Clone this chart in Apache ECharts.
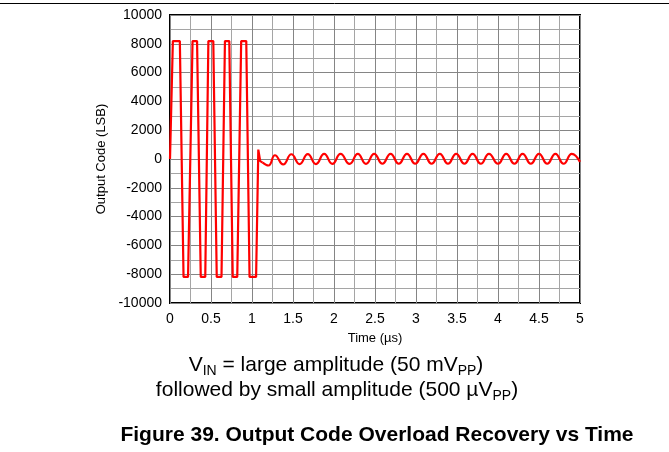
<!DOCTYPE html>
<html>
<head>
<meta charset="utf-8">
<script src="https://cdn.jsdelivr.net/npm/echarts@6/dist/echarts.min.js"></script>
<style>
  html, body { margin: 0; padding: 0; background: #fff; }
  #chart { width: 669px; height: 452px; }
</style>
</head>
<body>
<div id="chart"></div>
<script>
// Overload phase: large input drives the ADC to full scale (14-bit codes)
const overloadTime = [0, 0.02, 0.035, 0.12, 0.165, 0.22, 0.275, 0.33, 0.375, 0.43, 0.468, 0.528, 0.57, 0.628, 0.67, 0.723, 0.765, 0.82, 0.868, 0.93, 0.97, 1.05, 1.077, 1.10, 1.13];
const overloadCode = [0, 0, 8191, 8191, -8192, -8192, 8191, 8191, -8192, -8192, 8191, 8191, -8192, -8192, 8191, 8191, -8192, -8192, 8191, 8191, -8192, -8192, 650, -150, -250];

// Recovery phase: small-amplitude input, peaks and troughs of the response
const recoveryTime = [1.13, 1.20, 1.28, 1.38, 1.48, 1.58, 1.68, 1.78, 1.88, 1.98, 2.08, 2.19, 2.29, 2.39, 2.49, 2.59, 2.69, 2.79, 2.89, 2.99, 3.09, 3.19, 3.29, 3.39, 3.49, 3.59, 3.69, 3.79, 3.89, 4.00, 4.10, 4.20, 4.30, 4.40, 4.50, 4.60, 4.70, 4.80, 4.90, 5.00];
const recoveryCode = [-250, -450, 260, -380, 330, -350, 340, -350, 350, -340, 350, -340, 350, -340, 360, -330, 360, -330, 360, -330, 360, -330, 360, -330, 360, -330, 360, -330, 360, -330, 360, -330, 360, -330, 360, -330, 360, -330, 360, -200];

// Axis ticks
const xTicks = [0, 0.5, 1, 1.5, 2, 2.5, 3, 3.5, 4, 4.5, 5];
const yTicks = [-10000, -8000, -6000, -4000, -2000, 0, 2000, 4000, 6000, 8000, 10000];

const xLabel = 'Time (\u00b5s)';
const yLabel = 'Output Code (LSB)';
const captionTitle = 'Figure 39. Output Code Overload Recovery vs Time';

const font = 'Arial, "Liberation Sans", Helvetica, sans-serif';

const zip = (a, b) => a.map((v, i) => [v, b[i]]);

const chart = echarts.init(document.getElementById('chart'), null, { renderer: 'canvas' });

chart.setOption({
  animation: false,
  backgroundColor: '#fff',
  grid: {
    left: 170, top: 15, width: 410, height: 288,
    show: true, borderColor: '#000', borderWidth: 2, backgroundColor: 'transparent'
  },
  xAxis: {
    type: 'value',
    min: xTicks[0], max: xTicks[xTicks.length - 1], interval: 0.5,
    name: xLabel, nameLocation: 'middle', nameGap: 29,
    nameTextStyle: { color: '#000', fontFamily: font, fontSize: 13 },
    axisLine: { show: false },
    axisTick: { show: false },
    axisLabel: {
      color: '#000', fontFamily: font, fontSize: 14, margin: 9,
      formatter: v => String(xTicks.find(t => Math.abs(t - v) < 1e-9) ?? v)
    },
    splitLine: { show: true, lineStyle: { color: '#858585', width: 1 } },
    minorTick: { show: false, splitNumber: 2 },
    minorSplitLine: { show: true, lineStyle: { color: '#a5a5a5', width: 1 } }
  },
  yAxis: {
    type: 'value',
    min: yTicks[0], max: yTicks[yTicks.length - 1], interval: 2000,
    name: yLabel, nameLocation: 'middle', nameGap: 61, nameRotate: 90,
    nameTextStyle: { color: '#000', fontFamily: font, fontSize: 13 },
    axisLine: { show: false },
    axisTick: { show: false },
    axisLabel: {
      color: '#000', fontFamily: font, fontSize: 14, margin: 8,
      formatter: v => String(yTicks.find(t => t === v) ?? v)
    },
    splitLine: { show: true, lineStyle: { color: '#858585', width: 1 } },
    minorTick: { show: false, splitNumber: 2 },
    minorSplitLine: { show: true, lineStyle: { color: '#a5a5a5', width: 1 } }
  },
  series: [
    {
      type: 'line', data: zip(overloadTime, overloadCode),
      showSymbol: false, smooth: false,
      lineStyle: { color: '#ff0000', width: 2.2 }, z: 5
    },
    {
      type: 'line', data: zip(recoveryTime, recoveryCode),
      showSymbol: false, smooth: 0.5,
      lineStyle: { color: '#ff0000', width: 2.2 }, z: 5
    }
  ],
  graphic: [
    {
      type: 'line', shape: { x1: 0, y1: 3.5, x2: 669, y2: 3.5 },
      style: { stroke: '#000', lineWidth: 1 }
    },
    {
      type: 'text', x: 336, y: 365,
      style: {
        text: '{m|V}{s|IN}{m| = large amplitude (50 mV}{s|PP}{m|)}',
        align: 'center', verticalAlign: 'middle',
        rich: {
          m: { fontFamily: font, fontSize: 21, color: '#000', lineHeight: 26 },
          s: { fontFamily: font, fontSize: 14, color: '#000', lineHeight: 16, verticalAlign: 'bottom' }
        }
      }
    },
    {
      type: 'text', x: 337, y: 390,
      style: {
        text: '{m|followed by small amplitude (500 \u00b5V}{s|PP}{m|)}',
        align: 'center', verticalAlign: 'middle',
        rich: {
          m: { fontFamily: font, fontSize: 21, color: '#000', lineHeight: 26 },
          s: { fontFamily: font, fontSize: 14, color: '#000', lineHeight: 16, verticalAlign: 'bottom' }
        }
      }
    },
    {
      type: 'text', x: 377, y: 435,
      style: {
        text: captionTitle, align: 'center', verticalAlign: 'middle',
        font: 'bold 21px ' + font, fill: '#000'
      }
    }
  ]
});
</script>
</body>
</html>
